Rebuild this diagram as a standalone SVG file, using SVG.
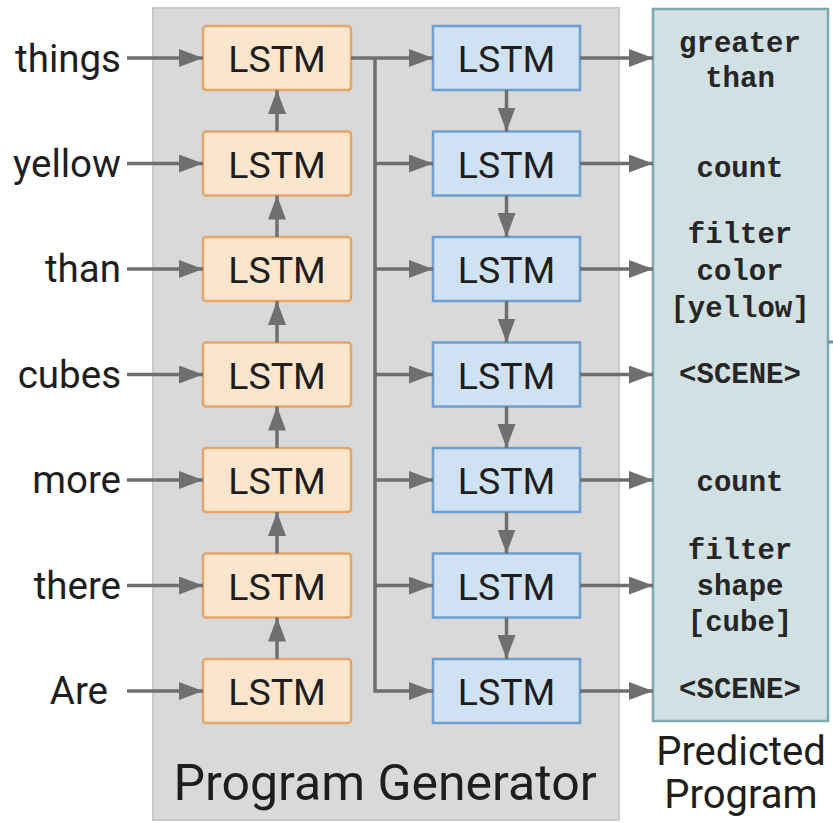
<svg xmlns="http://www.w3.org/2000/svg" width="833" height="823" viewBox="0 0 833 823">
  <style>
    .word { font-family: Roboto, "Liberation Sans", sans-serif; font-size: 38.5px; fill: #1e1e1e; text-anchor: end; }
    .cell-label { font-family: Roboto, "Liberation Sans", sans-serif; font-size: 37.5px; fill: #1e1e1e; text-anchor: middle; }
    .title { font-family: Roboto, "Liberation Sans", sans-serif; font-size: 50px; fill: #1e1e1e; text-anchor: middle; }
    .title-sm { font-family: Roboto, "Liberation Sans", sans-serif; font-size: 40px; fill: #1e1e1e; text-anchor: middle; }
    .prog { font-family: "Liberation Mono", "Courier New", monospace; font-weight: bold; font-size: 29px; fill: #262626; text-anchor: middle; }
    .enc { fill: #fce5cd; stroke: #e3a66b; stroke-width: 2.5; }
    .dec { fill: #cfe2f3; stroke: #6e9fd0; stroke-width: 2.5; }
    .wire { fill: none; stroke: #6f6f6f; stroke-width: 3.5; }
  </style>
  <defs>
    <marker id="arrow" markerUnits="userSpaceOnUse" markerWidth="26" markerHeight="18" refX="24" refY="9" orient="auto">
      <path d="M0,0 L24,9 L0,18 Z" fill="#6f6f6f"/>
    </marker>
  </defs>

  <!-- program generator panel -->
  <g id="program-generator">
    <rect x="153" y="8" width="466" height="812" fill="#d9d9d9" stroke="#c9c9c9" stroke-width="2"/>
    <text class="title" x="385" y="800">Program Generator</text>
  </g>

  <!-- predicted program panel -->
  <g id="predicted-program">
    <rect x="653" y="9" width="175" height="712" fill="#d0e0e3" stroke="#7ea7b0" stroke-width="2.5"/>
    <line x1="828" y1="342" x2="833" y2="342" stroke="#5f9aa5" stroke-width="3"/>
    <text class="prog" x="740" y="52">greater</text>
    <text class="prog" x="740" y="87">than</text>
    <text class="prog" x="740" y="177">count</text>
    <text class="prog" x="740" y="243">filter</text>
    <text class="prog" x="740" y="280">color</text>
    <text class="prog" x="740" y="317">[yellow]</text>
    <text class="prog" x="740" y="383">&lt;SCENE&gt;</text>
    <text class="prog" x="740" y="491">count</text>
    <text class="prog" x="740" y="559">filter</text>
    <text class="prog" x="740" y="595">shape</text>
    <text class="prog" x="740" y="631">[cube]</text>
    <text class="prog" x="740" y="698">&lt;SCENE&gt;</text>
    <text class="title-sm" x="741" y="765">Predicted</text>
    <text class="title-sm" x="741" y="808">Program</text>
  </g>

  <!-- input words -->
  <g id="words">
    <text class="word" x="121" y="72">things</text>
    <text class="word" x="121" y="177">yellow</text>
    <text class="word" x="121" y="282">than</text>
    <text class="word" x="121" y="388">cubes</text>
    <text class="word" x="121" y="493">more</text>
    <text class="word" x="121" y="599">there</text>
    <text class="word" x="108" y="704">Are</text>
  </g>

  <!-- encoder cells -->
  <g id="enc-0"><rect class="enc" x="203" y="26" width="148" height="64" rx="3"/><text class="cell-label" x="277" y="72">LSTM</text></g>
  <g id="enc-1"><rect class="enc" x="203" y="131.5" width="148" height="64" rx="3"/><text class="cell-label" x="277" y="177.5">LSTM</text></g>
  <g id="enc-2"><rect class="enc" x="203" y="237" width="148" height="64" rx="3"/><text class="cell-label" x="277" y="283">LSTM</text></g>
  <g id="enc-3"><rect class="enc" x="203" y="342.5" width="148" height="64" rx="3"/><text class="cell-label" x="277" y="388.5">LSTM</text></g>
  <g id="enc-4"><rect class="enc" x="203" y="448" width="148" height="64" rx="3"/><text class="cell-label" x="277" y="494">LSTM</text></g>
  <g id="enc-5"><rect class="enc" x="203" y="553.5" width="148" height="64" rx="3"/><text class="cell-label" x="277" y="599.5">LSTM</text></g>
  <g id="enc-6"><rect class="enc" x="203" y="659" width="148" height="64" rx="3"/><text class="cell-label" x="277" y="705">LSTM</text></g>

  <!-- decoder cells -->
  <g id="dec-0"><rect class="dec" x="433" y="26" width="147" height="64"/><text class="cell-label" x="506.5" y="72">LSTM</text></g>
  <g id="dec-1"><rect class="dec" x="433" y="131.5" width="147" height="64"/><text class="cell-label" x="506.5" y="177.5">LSTM</text></g>
  <g id="dec-2"><rect class="dec" x="433" y="237" width="147" height="64"/><text class="cell-label" x="506.5" y="283">LSTM</text></g>
  <g id="dec-3"><rect class="dec" x="433" y="342.5" width="147" height="64"/><text class="cell-label" x="506.5" y="388.5">LSTM</text></g>
  <g id="dec-4"><rect class="dec" x="433" y="448" width="147" height="64"/><text class="cell-label" x="506.5" y="494">LSTM</text></g>
  <g id="dec-5"><rect class="dec" x="433" y="553.5" width="147" height="64"/><text class="cell-label" x="506.5" y="599.5">LSTM</text></g>
  <g id="dec-6"><rect class="dec" x="433" y="659" width="147" height="64"/><text class="cell-label" x="506.5" y="705">LSTM</text></g>

  <!-- connectors -->
  <g id="connectors" class="wire">
    <!-- word inputs -->
    <line x1="127" y1="58" x2="203" y2="58" marker-end="url(#arrow)"/>
    <line x1="127" y1="163.5" x2="203" y2="163.5" marker-end="url(#arrow)"/>
    <line x1="127" y1="269" x2="203" y2="269" marker-end="url(#arrow)"/>
    <line x1="127" y1="374.5" x2="203" y2="374.5" marker-end="url(#arrow)"/>
    <line x1="127" y1="480" x2="203" y2="480" marker-end="url(#arrow)"/>
    <line x1="127" y1="585.5" x2="203" y2="585.5" marker-end="url(#arrow)"/>
    <line x1="127" y1="691" x2="203" y2="691" marker-end="url(#arrow)"/>

    <!-- encoder recurrence (upward) -->
    <line x1="277" y1="659" x2="277" y2="617.5" marker-end="url(#arrow)"/>
    <line x1="277" y1="553.5" x2="277" y2="512" marker-end="url(#arrow)"/>
    <line x1="277" y1="448" x2="277" y2="406.5" marker-end="url(#arrow)"/>
    <line x1="277" y1="342.5" x2="277" y2="301" marker-end="url(#arrow)"/>
    <line x1="277" y1="237" x2="277" y2="195.5" marker-end="url(#arrow)"/>
    <line x1="277" y1="131.5" x2="277" y2="90" marker-end="url(#arrow)"/>

    <!-- encoding fanned out to decoder -->
    <path d="M351,58 H433" marker-end="url(#arrow)"/>
    <path d="M375,58 V691 H433" marker-end="url(#arrow)"/>
    <line x1="375" y1="163.5" x2="433" y2="163.5" marker-end="url(#arrow)"/>
    <line x1="375" y1="269" x2="433" y2="269" marker-end="url(#arrow)"/>
    <line x1="375" y1="374.5" x2="433" y2="374.5" marker-end="url(#arrow)"/>
    <line x1="375" y1="480" x2="433" y2="480" marker-end="url(#arrow)"/>
    <line x1="375" y1="585.5" x2="433" y2="585.5" marker-end="url(#arrow)"/>

    <!-- decoder recurrence (downward) -->
    <line x1="506.5" y1="90" x2="506.5" y2="131.5" marker-end="url(#arrow)"/>
    <line x1="506.5" y1="195.5" x2="506.5" y2="237" marker-end="url(#arrow)"/>
    <line x1="506.5" y1="301" x2="506.5" y2="342.5" marker-end="url(#arrow)"/>
    <line x1="506.5" y1="406.5" x2="506.5" y2="448" marker-end="url(#arrow)"/>
    <line x1="506.5" y1="512" x2="506.5" y2="553.5" marker-end="url(#arrow)"/>
    <line x1="506.5" y1="617.5" x2="506.5" y2="659" marker-end="url(#arrow)"/>

    <!-- decoder outputs -->
    <line x1="580" y1="58" x2="653" y2="58" marker-end="url(#arrow)"/>
    <line x1="580" y1="163.5" x2="653" y2="163.5" marker-end="url(#arrow)"/>
    <line x1="580" y1="269" x2="653" y2="269" marker-end="url(#arrow)"/>
    <line x1="580" y1="374.5" x2="653" y2="374.5" marker-end="url(#arrow)"/>
    <line x1="580" y1="480" x2="653" y2="480" marker-end="url(#arrow)"/>
    <line x1="580" y1="585.5" x2="653" y2="585.5" marker-end="url(#arrow)"/>
    <line x1="580" y1="691" x2="653" y2="691" marker-end="url(#arrow)"/>
  </g>
</svg>
